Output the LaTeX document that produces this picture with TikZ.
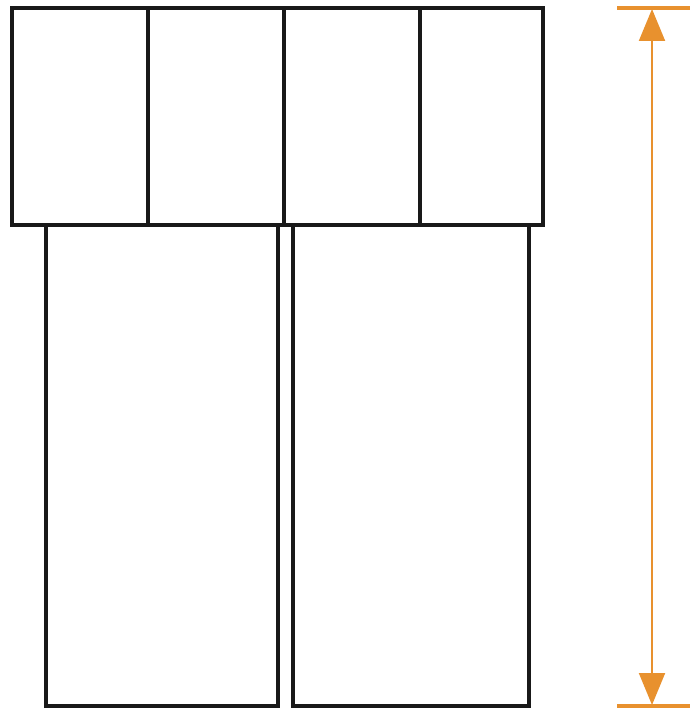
\documentclass[tikz,border=0pt]{standalone}
\usetikzlibrary{arrows.meta}
\definecolor{dimorange}{HTML}{E8912E}
\begin{document}
\begin{tikzpicture}[x=1pt,y=-1pt,
  boxline/.style={draw=black!90,line width=4pt},
  dimline/.style={draw=dimorange,line width=2pt},
  dimtick/.style={draw=dimorange,line width=3.5pt},
  dimarrow/.style={dimline,{Triangle[length=32pt,width=26pt]}-{Triangle[length=32pt,width=26pt]},fill=dimorange}]
\useasboundingbox (0,0) rectangle (690,709);
% bottom boxes
\draw[boxline] (46,225) rectangle (278,706);
\draw[boxline] (293,225) rectangle (529,706);
% top row
\draw[boxline] (12,8) rectangle (148,225);
\draw[boxline] (148,8) rectangle (284,225);
\draw[boxline] (284,8) rectangle (420,225);
\draw[boxline] (420,8) rectangle (543,225);
% dimension
\coordinate (tl) at (617,8);
\coordinate (tr) at (690,8);
\coordinate (bl) at (617,706);
\coordinate (br) at (690,706);
\coordinate (atop) at (652,9);
\coordinate (abot) at (652,705);
\draw[dimtick] (tl) -- (tr);
\draw[dimtick] (bl) -- (br);
\draw[dimarrow] (atop) -- (abot);
\end{tikzpicture}
\end{document}
